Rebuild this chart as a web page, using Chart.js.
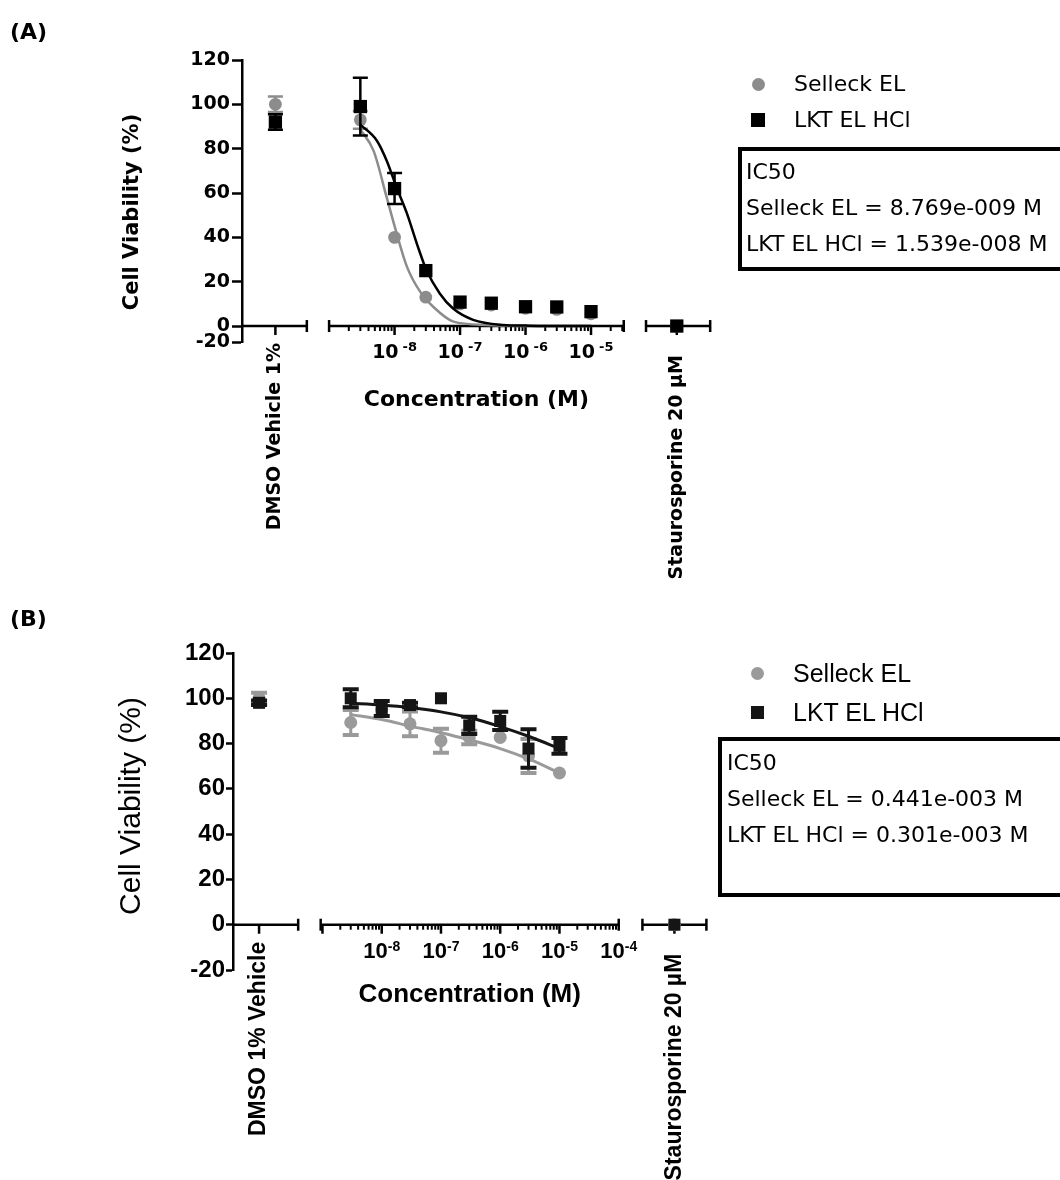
<!DOCTYPE html>
<html>
<head>
<meta charset="utf-8">
<title>Cell viability</title>
<script src="https://cdn.jsdelivr.net/npm/chart.js@4.4.1/dist/chart.umd.min.js"></script>
<style>
  html, body { margin: 0; padding: 0; background: #fff; }
  body { position: relative; width: 1060px; height: 1180px; overflow: hidden; }
  .panel { position: absolute; left: 0; width: 1060px; height: 590px; overflow: hidden; }
  .panel canvas { position: absolute; left: 0; top: 0; }
  .tag { position: absolute; left: 10px; font: bold 22px "DejaVu Sans", sans-serif; line-height: 26px; }
  .legend { position: absolute; }
  .legend .row { position: relative; white-space: nowrap; padding-left: 54px; }
  .legend .sym { position: absolute; }
  .ic50 { position: absolute; border: 4px solid #000; width: 420px; white-space: nowrap;
          font: 22px "DejaVu Sans", sans-serif; line-height: 36px; box-sizing: border-box; }
</style>
</head>
<body>
<div class="panel" style="top:0">
  <canvas id="chartA" width="1060" height="590"></canvas>
  <div class="tag" style="top:19px">(A)</div>
  <div class="legend" id="legendA" style="left:740px; top:66px; font:22px 'DejaVu Sans';"></div>
  <div class="ic50" id="boxA" style="left:738px; top:147px; height:124px; padding:3px 0 0 4px;"></div>
</div>
<div class="panel" style="top:590px">
  <canvas id="chartB" width="1060" height="590"></canvas>
  <div class="tag" style="top:16px">(B)</div>
  <div class="legend" id="legendB" style="left:739px; top:64px; font:25px 'Liberation Sans';"></div>
  <div class="ic50" id="boxB" style="left:718px; top:147px; height:160px; padding:4px 0 0 5px;"></div>
</div>
<script>
// ---------- values ----------
const concentrations = [3e-9, 1e-8, 3e-8, 1e-7, 3e-7, 1e-6, 3e-6, 1e-5];   // M
const seriesNames = ['Selleck EL', 'LKT EL HCl'];
const yTickValues = [-20, 0, 20, 40, 60, 80, 100, 120];

// (A)
const selleckA    = [93, 40, 13, 10, 9.5, 8, 7.5, 5.5];
const selleckAErr = [4, 0, 0, 0, 0, 0, 0, 0];
const lktA        = [99, 62, 25, 10.8, 10.3, 8.7, 8.6, 6.5];
const lktAErr     = [13, 7, 0, 0, 0, 0, 0, 0];
const dmsoA       = [100, 92];      // Selleck, LKT
const dmsoAErr    = [3.5, 3.5];
const stauroA     = [0, 0];
const stauroAErr  = [0, 0];
const decadesA    = [-8, -7, -6, -5];
const controlsA   = ['DMSO Vehicle 1%', 'Staurosporine 20 µM'];
const ic50A       = ['8.769e-009', '1.539e-008'];
// fitted curves (log10 M, %)
const selleckFitXA = [-8.53, -8.32, -8.12, -7.98, -7.81, -7.61, -7.41, -7.1, -6.59, -6.0, -5.0];
const selleckFitYA = [89, 79, 58, 43, 26.7, 15.5, 8.7, 2, 0.5, 0, 0];
const lktFitXA = [-8.53, -8.27, -8.12, -7.97, -7.81, -7.66, -7.51, -7.31, -7.11, -6.8, -6.34, -6.0, -5.5, -5.0];
const lktFitYA = [91, 83.6, 74.6, 62.6, 50.7, 37.2, 25, 14.7, 8, 2.8, 0.5, 0.2, 0, 0];

// (B)
const selleckB    = [89.3, 95, 88.7, 81.3, 82.7, 82.7, 74.5, 67];
const selleckBErr = [5.5, 0, 5.5, 5.3, 3, 0, 7.5, 0];
const lktB        = [100, 95.5, 97, 100, 88, 90, 77.8, 79];
const lktBErr     = [4, 3.3, 1, 0, 3.8, 4, 8.5, 3.5];
const dmsoB       = [100, 98];
const dmsoBErr    = [2.5, 1];
const stauroB     = [0, 0];
const stauroBErr  = [0, 0];
const decadesB    = [-8, -7, -6, -5, -4];
const controlsB   = ['DMSO 1% Vehicle', 'Staurosporine 20 µM'];
const ic50B       = ['0.441e-003', '0.301e-003'];
const fitXB        = [-8.54, -8.0, -7.5, -7.0, -6.5, -6.0, -5.5, -5.0];
const selleckFitYB = [92.9, 90.6, 87.6, 84.8, 81.5, 77.8, 73.0, 67.0];
const lktFitYB     = [97.8, 97.0, 95.8, 94.0, 91.3, 87.5, 83.0, 77.8];

// ---------- panel layouts ----------
const panelA = {
  canvas: 'chartA', legend: 'legendA', box: 'boxA', ic50: ic50A,
  selleck: selleckA, selleckErr: selleckAErr, lkt: lktA, lktErr: lktAErr,
  dmso: dmsoA, dmsoErr: dmsoAErr, stauro: stauroA, stauroErr: stauroAErr,
  selleckFit: [selleckFitXA, selleckFitYA], lktFit: [lktFitXA, lktFitYA],
  decades: decadesA, controls: controlsA,
  // plot box (canvas px) and x range in log10 units
  left: 242, right: 720, top: 60, bottom: 342,
  xMin: -10.33, xMax: -3.03, yMin: -7.2,          // -20..0 is a compressed segment in the original
  segments: [[-10.33, -9.34], [-9, -4.5], [-4.16, -3.18]],
  controlAt: [-9.82, -3.69],
  gray: '#8c8c8c', black: '#000', lineW: 2.5,
  squareR: 9.4, circleR: 6.4, errW: 2.5, errCap: 7.5, errCapW: 2.5,
  tickFont: { family: 'DejaVu Sans', size: 19, weight: 'bold' }, tickLen: 10, tickPad: 2,
  decFont: 'bold 19px "DejaVu Sans"', supFont: 'bold 13px "DejaVu Sans"', supGap: 4, decOffset: 27, supRise: 5,
  titleFont: 'bold 22px "DejaVu Sans"', titleOffset: 74,
  ctrlFont: 'bold 19px "DejaVu Sans"', ctrlOffset: [17, 29],
  yTitleFont: 'bold 21px "DejaVu Sans"', yTitleDx: -109, yTitleY: 212,
  legendRow: 36, legendCircle: 13, legendSquare: 14
};

const panelB = {
  canvas: 'chartB', legend: 'legendB', box: 'boxB', ic50: ic50B,
  selleck: selleckB, selleckErr: selleckBErr, lkt: lktB, lktErr: lktBErr,
  dmso: dmsoB, dmsoErr: dmsoBErr, stauro: stauroB, stauroErr: stauroBErr,
  selleckFit: [fitXB, selleckFitYB], lktFit: [fitXB, lktFitYB],
  decades: decadesB, controls: controlsB,
  left: 233, right: 715, top: 63, bottom: 380,
  xMin: -10.51, xMax: -2.375, yMin: -20,
  segments: [[-10.51, -9.41], [-9.03, -4.0], [-3.6, -2.52]],
  controlAt: [-10.07, -3.06],
  gray: '#9a9a9a', black: '#151515', lineW: 3,
  squareR: 8.5, circleR: 6.5, errW: 3, errCap: 8, errCapW: 4,
  tickFont: { family: 'Liberation Sans', size: 24, weight: 'bold' }, tickLen: 7, tickPad: 1,
  decFont: 'bold 22px "Liberation Sans"', supFont: 'bold 14px "Liberation Sans"', supGap: 0, decOffset: 27.5, supRise: 5,
  titleFont: 'bold 26px "Liberation Sans"', titleOffset: 70,
  ctrlFont: 'bold 23px "Liberation Sans"', ctrlOffset: [17, 29],
  yTitleFont: '30px "Liberation Sans"', yTitleDx: -101, yTitleY: 216,
  legendRow: 39, legendCircle: 13, legendSquare: 13
};

// ---------- plugins ----------
function errorBarPlugin(p) {
  return {
    id: 'errorBars',
    beforeDatasetDraw(chart, args) {
      const ds = chart.data.datasets[args.index];
      if (!ds.errors) return;
      const { ctx } = chart;
      const x = chart.scales.x, y = chart.scales.y;
      ctx.save();
      ctx.strokeStyle = ds.pointBackgroundColor;
      ds.data.forEach((pt, i) => {
        const e = ds.errors[i];
        if (!e) return;
        const px = x.getPixelForValue(pt.x);
        const top = y.getPixelForValue(pt.y + e);
        const bot = y.getPixelForValue(pt.y - e);
        ctx.lineWidth = p.errW;
        ctx.beginPath(); ctx.moveTo(px, top); ctx.lineTo(px, bot); ctx.stroke();
        ctx.lineWidth = p.errCapW;
        ctx.beginPath();
        ctx.moveTo(px - p.errCap, top); ctx.lineTo(px + p.errCap, top);
        ctx.moveTo(px - p.errCap, bot); ctx.lineTo(px + p.errCap, bot);
        ctx.stroke();
      });
      ctx.restore();
    }
  };
}

function brokenAxisPlugin(p) {
  return {
    id: 'brokenAxis',
    beforeDatasetsDraw(chart) {
      const { ctx, chartArea } = chart;
      const x = chart.scales.x, y = chart.scales.y;
      const y0 = y.getPixelForValue(0);
      const line = (x1, y1, x2, y2) => { ctx.beginPath(); ctx.moveTo(x1, y1); ctx.lineTo(x2, y2); ctx.stroke(); };
      ctx.save();
      ctx.strokeStyle = '#000';
      ctx.lineWidth = 2.5;
      p.segments.forEach(([a, b], i) => {
        const xa = i === 0 ? chartArea.left : x.getPixelForValue(a);
        const xb = x.getPixelForValue(b);
        line(xa, y0, xb, y0);
        if (i > 0) line(xa, y0 - 6, xa, y0 + 6);
        line(xb, y0 - 6, xb, y0 + 6);
      });
      p.controlAt.forEach(v => {
        const px = x.getPixelForValue(v);
        line(px, y0, px, y0 + 9);
      });
      // log ticks on the concentration segment
      const [lo, hi] = p.segments[1];
      for (let d = Math.floor(lo); d < hi; d++) {
        for (let k = 1; k < 10; k++) {
          const v = d + Math.log10(k);
          if (v <= lo + 1e-6 || v >= hi - 1e-6) continue;
          const px = x.getPixelForValue(v);
          ctx.lineWidth = k === 1 ? 2.5 : 2;
          line(px, y0, px, y0 + (k === 1 ? 9 : 5));
        }
      }
      ctx.restore();
    },
    afterDraw(chart) {
      const { ctx, chartArea } = chart;
      const x = chart.scales.x, y = chart.scales.y;
      const y0 = y.getPixelForValue(0);
      ctx.save();
      ctx.fillStyle = '#000';
      // 10^n labels
      p.decades.forEach(d => {
        const px = x.getPixelForValue(d);
        const sup = String(d);
        ctx.font = p.decFont;
        const w1 = ctx.measureText('10').width;
        ctx.font = p.supFont;
        const w2 = ctx.measureText(sup).width;
        const left = px - (w1 + p.supGap + w2) / 2;
        ctx.textAlign = 'left';
        ctx.textBaseline = 'middle';
        ctx.font = p.decFont;
        ctx.fillText('10', left, y0 + p.decOffset);
        ctx.font = p.supFont;
        ctx.fillText(sup, left + w1 + p.supGap, y0 + p.decOffset - p.supRise);
      });
      // x title, centred under the concentration segment
      const [lo, hi] = p.segments[1];
      ctx.font = p.titleFont;
      ctx.textAlign = 'center';
      ctx.fillText('Concentration (M)', (x.getPixelForValue(lo) + x.getPixelForValue(hi)) / 2, y0 + p.titleOffset);
      // rotated control labels
      ctx.font = p.ctrlFont;
      p.controlAt.forEach((v, i) => {
        ctx.save();
        ctx.translate(x.getPixelForValue(v), y0 + p.ctrlOffset[i]);
        ctx.rotate(-Math.PI / 2);
        ctx.textAlign = 'right';
        ctx.textBaseline = 'middle';
        ctx.fillText(p.controls[i], 0, 0);
        ctx.restore();
      });
      // y title
      ctx.translate(chartArea.left + p.yTitleDx, p.yTitleY);
      ctx.rotate(-Math.PI / 2);
      ctx.font = p.yTitleFont;
      ctx.textAlign = 'center';
      ctx.textBaseline = 'middle';
      ctx.fillText('Cell Viability (%)', 0, 0);
      ctx.restore();
    }
  };
}

// ---------- build ----------
function points(p, dmso, vals, stauro) {
  return [
    { x: p.controlAt[0], y: dmso },
    ...concentrations.map((c, i) => ({ x: Math.log10(c), y: vals[i] })),
    { x: p.controlAt[1], y: stauro }
  ];
}

function buildPanel(p) {
  const yAxisW = 80;
  const markerSet = (vals, errs, idx, color, style, r, order) => ({
    data: points(p, p.dmso[idx], vals, p.stauro[idx]),
    errors: [p.dmsoErr[idx], ...errs, p.stauroErr[idx]],
    showLine: false,
    pointStyle: style,
    pointRadius: r,
    pointBackgroundColor: color,
    pointBorderColor: color,
    pointBorderWidth: 0,
    borderColor: color,
    order: order
  });
  const fitSet = (fit, color, order) => ({
    data: fit[0].map((v, i) => ({ x: v, y: fit[1][i] })),
    borderColor: color,
    borderWidth: p.lineW,
    pointRadius: 0,
    cubicInterpolationMode: 'monotone',
    fill: false,
    order: order
  });

  new Chart(document.getElementById(p.canvas), {
    type: 'line',
    data: {
      datasets: [
        markerSet(p.lkt, p.lktErr, 1, p.black, 'rect', p.squareR, 0),
        fitSet(p.lktFit, p.black, 1),
        markerSet(p.selleck, p.selleckErr, 0, p.gray, 'circle', p.circleR, 2),
        fitSet(p.selleckFit, p.gray, 3)
      ]
    },
    options: {
      responsive: false,
      animation: false,
      events: [],
      layout: { padding: { left: p.left - yAxisW, right: 1060 - p.right, top: p.top, bottom: 590 - p.bottom } },
      plugins: { legend: { display: false }, tooltip: { enabled: false } },
      scales: {
        x: { type: 'linear', min: p.xMin, max: p.xMax, display: false },
        y: {
          type: 'linear',
          min: p.yMin,
          max: 120,
          afterBuildTicks: s => { s.ticks = yTickValues.map(v => ({ value: v === -20 ? p.yMin : v })); },
          afterFit: s => { s.width = yAxisW; },
          ticks: {
            autoSkip: false,
            color: '#000',
            font: p.tickFont,
            padding: p.tickPad,
            callback: v => (v === p.yMin ? '-20' : String(v))
          },
          grid: { drawOnChartArea: false, drawTicks: true, tickLength: p.tickLen, tickWidth: 2.5, tickColor: '#000', color: '#000' },
          border: { display: true, color: '#000', width: 2.5 }
        }
      }
    },
    plugins: [errorBarPlugin(p), brokenAxisPlugin(p)]
  });

  // legend
  const legend = document.getElementById(p.legend);
  const symbols = [
    { color: p.gray, size: p.legendCircle, radius: '50%' },
    { color: p.black, size: p.legendSquare, radius: '0' }
  ];
  seriesNames.forEach((name, i) => {
    const row = document.createElement('div');
    row.className = 'row';
    row.style.height = p.legendRow + 'px';
    row.style.lineHeight = p.legendRow + 'px';
    const s = symbols[i];
    const sym = document.createElement('span');
    sym.className = 'sym';
    sym.style.cssText = `left:${18 - s.size / 2}px; top:${(p.legendRow - s.size) / 2}px; width:${s.size}px; height:${s.size}px; background:${s.color}; border-radius:${s.radius};`;
    row.appendChild(sym);
    row.appendChild(document.createTextNode(name));
    legend.appendChild(row);
  });

  document.getElementById(p.box).innerHTML =
    'IC50<br>' + seriesNames.map((n, i) => `${n} = ${p.ic50[i]} M`).join('<br>');
}

buildPanel(panelA);
buildPanel(panelB);
</script>
</body>
</html>
